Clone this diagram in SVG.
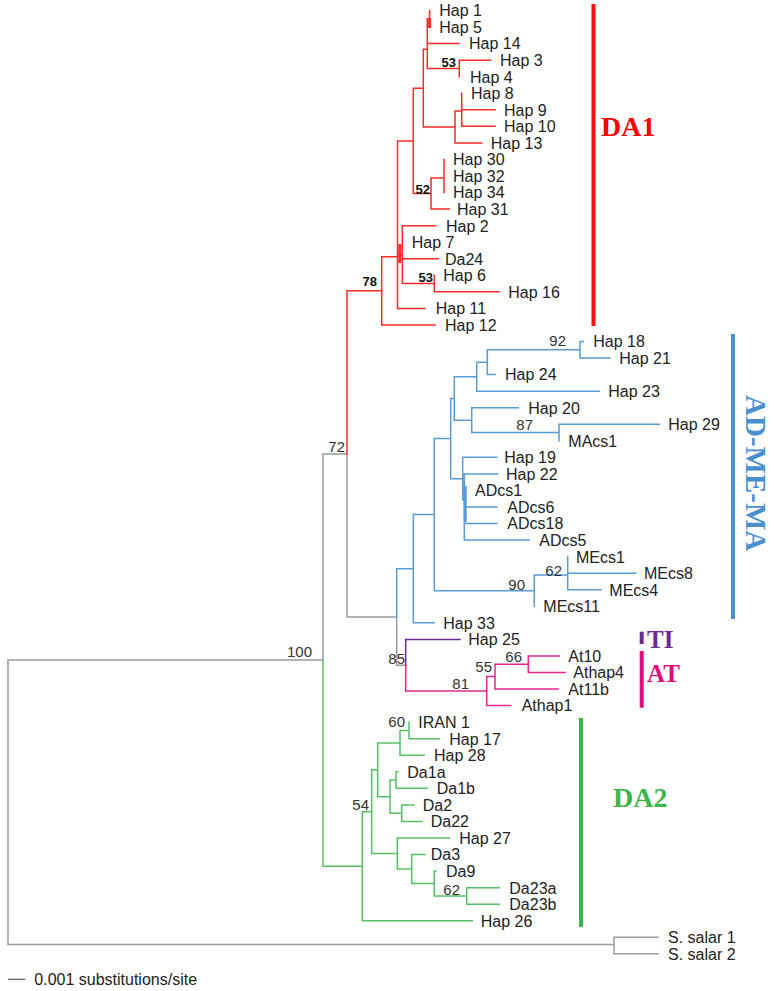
<svg xmlns="http://www.w3.org/2000/svg" width="774" height="991" viewBox="0 0 774 991">
<style>
.e{fill:none;stroke-width:1.5;stroke-linecap:square}
.r{stroke:#ff2a2a}.b{stroke:#5a9bd5}.g{stroke:#9b9b9b}.p{stroke:#6b2d90}.k{stroke:#e6258f}.n{stroke:#55c265}
.bar{stroke-width:4;fill:none}
text{font-family:"Liberation Sans",Arial,sans-serif}
.lf{font-size:16px;fill:#222}
.bs{font-size:15px;fill:#333}
.bb{font-size:13px;font-weight:bold;fill:#111}
.cl{font-family:"Liberation Serif","Times New Roman",serif;font-weight:bold}
</style>
<rect width="774" height="991" fill="#fff"/>
<g id="connectors">
<path class="e g" d="M8,660V944.5M8,660H323M8,944.5H614M614,937.3V953.85M614,937.3H658M614,953.85H658"/>
<path class="e g" d="M323,453.9V660M323,453.9H347M347,453.9V616.9M347,616.9H396.7M396.7,616.9V665.2M396.7,665.2H405.7"/>
<path class="e r" d="M347,290.8V453.9M347,290.8H381.7M381.7,256.7V324.95M381.7,256.7H397.5M381.7,324.95H435
M397.5,140.9V308.4M397.5,140.9H413.3M397.5,308.4H425M397.5,255H402.3
M402.3,225.65V283.6M402.3,225.65H435.7M402.3,258.75H438.3M402.3,283.6H434.3
M434.3,275.3V291.85M434.3,291.85H499.3
M413.3,88.2V193.6M413.3,88.2H423.3M413.3,193.6H431
M431,178V209.1M431,178H444M431,209.1H449.3M444,159.45V192.55
M423.3,49.3V127M423.3,49.3H427.3M423.3,127H455
M427.3,18.8V68.4M427.3,18.8H429.5M427.3,43.6H459M427.3,68.4H459.3
M429.5,10.5V27.05M459.3,60.15V76.7M459.3,60.15H490.7
M455,111V142.9M455,111H461.7M455,142.9H481.7
M461.7,93.25V126.35M461.7,109.8H495M461.7,126.35H495"/>
<path class="r" stroke-width="3" d="M399.8,244V263M429.6,18V28"/>
<path class="e b" d="M396.7,568.7V616.9M396.7,568.7H413.3
M413.3,514.6V622.85M413.3,514.6H434.3M413.3,622.85H434
M434.3,438.5V590.7M434.3,438.5H450.7M434.3,590.7H534.3
M450.7,398.4V478.7M450.7,398.4H454.3M450.7,478.7H462.7
M454.3,376.7V420.2M454.3,376.7H476.7M454.3,420.2H471.7
M476.7,362.2V391.15M476.7,362.2H487.3M476.7,391.15H599.3
M487.3,349.8V374.6M487.3,349.8H580M487.3,374.6H495
M580,341.5V358.05M580,341.5H583.5M580,358.05H610
M471.7,407.7V432.6M471.7,407.7H518.3M471.7,432.6H559
M559,424.25V440.8M559,424.25H659.3
M462.7,457.35V500M462.7,457.35H496.7M462.7,500H464.3
M464.3,473.9V540.1M464.3,473.9H497.7M464.3,507H496.7M464.3,523.55H496.7M464.3,540.1H529.3
M534.3,575V606.3M534.3,575H567.7
M567.7,556.65V589.75M567.7,573.2H635.7M567.7,589.75H601"/>
<path class="b" stroke-width="3" d="M465.2,486V522"/>
<path class="e p" d="M405.7,639.4V665.2M405.7,639.4H460"/>
<path class="e k" d="M405.7,665.2V691.1M405.7,691.1H486.7
M486.7,676.6V705.6M486.7,676.6H495M486.7,705.6H510.7
M495,664.3V689.05M495,664.3H528.3M495,689.05H558
M528.3,655.95V672.5M528.3,655.95H559.3M528.3,672.5H565"/>
<path class="e n" d="M323,660V866.2M323,866.2H362.3
M362.3,811.7V920.75M362.3,811.7H371.7M362.3,920.75H472.3
M371.7,769.8V853.5M371.7,769.8H377.7M371.7,853.5H397.3
M377.7,742.9V796.7M377.7,742.9H400M377.7,796.7H390
M400,730.5V755.25M400,730.5H409M400,755.25H424.3
M409,722.15V738.7M409,738.7H439.3
M390,780.1V813.2M390,780.1H396M390,813.2H401.7
M396,771.8V788.35M396,771.8H398M396,788.35H427.3
M401.7,804.9V821.45M401.7,804.9H414M401.7,821.45H421.7
M397.3,838V869M397.3,838H449.3M397.3,869H411.7
M411.7,854.55V883.5M411.7,854.55H425M411.7,883.5H434.3
M434.3,871.1V896M434.3,871.1H436M434.3,896H466.7
M466.7,887.65V904.2M466.7,887.65H499.3M466.7,904.2H499.3"/>
<path d="M8,979.3H25.3" stroke="#555" stroke-width="1.2"/>
</g>
<g id="support">
<text class="bs" x="312" y="656.5" text-anchor="end">100</text>
<text class="bs" x="345" y="451.5" text-anchor="end">72</text>
<text class="bb" x="377" y="286" text-anchor="end">78</text>
<text class="bb" x="456" y="66.5" text-anchor="end">53</text>
<text class="bb" x="430" y="193.5" text-anchor="end">52</text>
<text class="bb" x="433" y="281.5" text-anchor="end">53</text>
<text class="bs" x="566" y="346" text-anchor="end">92</text>
<text class="bs" x="533" y="429.5" text-anchor="end">87</text>
<text class="bs" x="525" y="589.5" text-anchor="end">90</text>
<text class="bs" x="562" y="576" text-anchor="end">62</text>
<text class="bs" x="405" y="663.5" text-anchor="end">85</text>
<text class="bs" x="469" y="688.5" text-anchor="end">81</text>
<text class="bs" x="492" y="672" text-anchor="end">55</text>
<text class="bs" x="522" y="662" text-anchor="end">66</text>
<text class="bs" x="405" y="726.5" text-anchor="end">60</text>
<text class="bs" x="369" y="810" text-anchor="end">54</text>
<text class="bs" x="460" y="894.5" text-anchor="end">62</text>
</g>
<g id="leaves" class="lf">
<g id="n-hap1"><text x="439.3" y="16.3">Hap 1</text></g>
<g id="n-hap5"><text x="439.3" y="32.9">Hap 5</text></g>
<g id="n-hap14"><text x="469" y="49.4">Hap 14</text></g>
<g id="n-hap3"><text x="500" y="66">Hap 3</text></g>
<g id="n-hap4"><text x="470" y="82.5">Hap 4</text></g>
<g id="n-hap8"><text x="471" y="99.1">Hap 8</text></g>
<g id="n-hap9"><text x="504" y="115.6">Hap 9</text></g>
<g id="n-hap10"><text x="504" y="132.2">Hap 10</text></g>
<g id="n-hap13"><text x="490.7" y="148.7">Hap 13</text></g>
<g id="n-hap30"><text x="453" y="165.3">Hap 30</text></g>
<g id="n-hap32"><text x="453" y="181.8">Hap 32</text></g>
<g id="n-hap34"><text x="453" y="198.4">Hap 34</text></g>
<g id="n-hap31"><text x="457" y="214.9">Hap 31</text></g>
<g id="n-hap2"><text x="446" y="231.5">Hap 2</text></g>
<g id="n-hap7"><text x="411.7" y="248">Hap 7</text></g>
<g id="n-da24"><text x="445" y="264.6">Da24</text></g>
<g id="n-hap6"><text x="443.3" y="281.1">Hap 6</text></g>
<g id="n-hap16"><text x="508.3" y="297.7">Hap 16</text></g>
<g id="n-hap11"><text x="435.7" y="314.2">Hap 11</text></g>
<g id="n-hap12"><text x="445" y="330.8">Hap 12</text></g>
<g id="n-hap18"><text x="593.3" y="347.3">Hap 18</text></g>
<g id="n-hap21"><text x="619.3" y="363.9">Hap 21</text></g>
<g id="n-hap24"><text x="505" y="380.4">Hap 24</text></g>
<g id="n-hap23"><text x="608.3" y="397">Hap 23</text></g>
<g id="n-hap20"><text x="528.3" y="413.5">Hap 20</text></g>
<g id="n-hap29"><text x="668.3" y="430.1">Hap 29</text></g>
<g id="n-macs1"><text x="568.3" y="446.6">MAcs1</text></g>
<g id="n-hap19"><text x="504.3" y="463.2">Hap 19</text></g>
<g id="n-hap22"><text x="506" y="479.7">Hap 22</text></g>
<g id="n-adcs1"><text x="475" y="496.3">ADcs1</text></g>
<g id="n-adcs6"><text x="507.3" y="512.8">ADcs6</text></g>
<g id="n-adcs18"><text x="507.3" y="529.4">ADcs18</text></g>
<g id="n-adcs5"><text x="539.3" y="545.9">ADcs5</text></g>
<g id="n-mecs1"><text x="576" y="562.5">MEcs1</text></g>
<g id="n-mecs8"><text x="644" y="579">MEcs8</text></g>
<g id="n-mecs4"><text x="609.3" y="595.6">MEcs4</text></g>
<g id="n-mecs11"><text x="543.3" y="612.1">MEcs11</text></g>
<g id="n-hap33"><text x="443.3" y="628.7">Hap 33</text></g>
<g id="n-hap25"><text x="468.3" y="645.2">Hap 25</text></g>
<g id="n-at10"><text x="568.3" y="661.8">At10</text></g>
<g id="n-athap4"><text x="573.3" y="678.3">Athap4</text></g>
<g id="n-at11b"><text x="568.3" y="694.9">At11b</text></g>
<g id="n-athap1"><text x="521.7" y="711.4">Athap1</text></g>
<g id="n-iran1"><text x="418.3" y="728">IRAN 1</text></g>
<g id="n-hap17"><text x="449.3" y="744.5">Hap 17</text></g>
<g id="n-hap28"><text x="434" y="761.1">Hap 28</text></g>
<g id="n-da1a"><text x="407.3" y="777.6">Da1a</text></g>
<g id="n-da1b"><text x="436.7" y="794.2">Da1b</text></g>
<g id="n-da2"><text x="422.7" y="810.7">Da2</text></g>
<g id="n-da22"><text x="430.7" y="827.3">Da22</text></g>
<g id="n-hap27"><text x="459.3" y="843.8">Hap 27</text></g>
<g id="n-da3"><text x="430.7" y="860.4">Da3</text></g>
<g id="n-da9"><text x="446" y="876.9">Da9</text></g>
<g id="n-da23a"><text x="509.3" y="893.5">Da23a</text></g>
<g id="n-da23b"><text x="509.3" y="910">Da23b</text></g>
<g id="n-hap26"><text x="480.7" y="926.6">Hap 26</text></g>
<g id="n-ssalar1"><text x="668" y="943.1">S. salar 1</text></g>
<g id="n-ssalar2"><text x="668" y="959.7">S. salar 2</text></g>
</g>
<g id="clades">
<g id="clade-da1"><path class="bar" stroke="#ff1010" d="M593.5,4V326"/><text class="cl" x="601" y="136" font-size="28" fill="#ff0000">DA1</text></g>
<g id="clade-adme"><path class="bar" stroke="#4a8fcf" d="M733,334V619"/><text class="cl" transform="translate(746,395) rotate(90)" font-size="29" fill="#4a8fcf">AD-ME-MA</text></g>
<g id="clade-ti"><path class="bar" stroke="#6a2c91" d="M641.7,631.7V644"/><text class="cl" x="647" y="648" font-size="25" fill="#6a2c91">TI</text></g>
<g id="clade-at"><path class="bar" stroke="#e5097f" d="M641.7,651V707.7"/><text class="cl" x="647" y="682" font-size="25" fill="#e5097f">AT</text></g>
<g id="clade-da2"><path class="bar" stroke="#3db54a" d="M581,718V927"/><text class="cl" x="613" y="807" font-size="28" fill="#3db54a">DA2</text></g>
</g>
<g id="scale"><text class="lf" x="34.3" y="985">0.001 substitutions/site</text></g>
</svg>
